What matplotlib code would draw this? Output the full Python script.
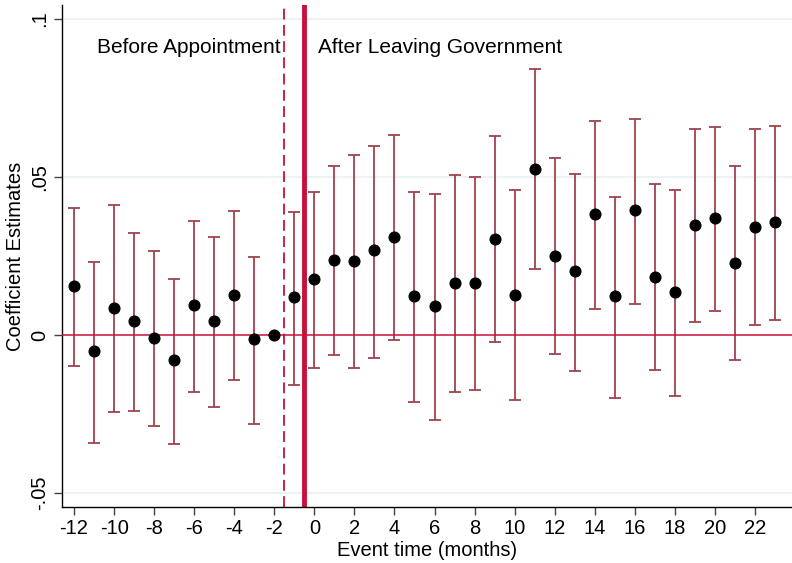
import numpy as np
import matplotlib
matplotlib.use('Agg')
import matplotlib.pyplot as plt

plt.rcParams['font.family'] = ['Liberation Sans', 'DejaVu Sans']
plt.rcParams['axes.unicode_minus'] = False

# event time (months) and estimates
event_time = list(range(-12, 24))
coef = [0.0155, -0.0050, 0.0085, 0.0044, -0.0008, -0.0079, 0.0094, 0.0044,
        0.0128, -0.0014, 0.0000, 0.0120, 0.0176, 0.0237, 0.0234, 0.0268,
        0.0311, 0.0124, 0.0092, 0.0166, 0.0166, 0.0304, 0.0128, 0.0526,
        0.0251, 0.0202, 0.0384, 0.0122, 0.0395, 0.0185, 0.0135, 0.0347,
        0.0369, 0.0229, 0.0341, 0.0359]
ci_hi = [0.0401, 0.0232, 0.0411, 0.0323, 0.0267, 0.0178, 0.0362, 0.0311,
         0.0392, 0.0247, 0.0000, 0.0389, 0.0453, 0.0534, 0.0570, 0.0599,
         0.0634, 0.0453, 0.0445, 0.0507, 0.0501, 0.0629, 0.0460, 0.0842,
         0.0560, 0.0510, 0.0677, 0.0438, 0.0684, 0.0479, 0.0459, 0.0653,
         0.0657, 0.0534, 0.0651, 0.0662]
ci_lo = [-0.0097, -0.0340, -0.0243, -0.0240, -0.0287, -0.0344, -0.0180, -0.0229,
         -0.0141, -0.0281, 0.0000, -0.0157, -0.0104, -0.0063, -0.0105, -0.0072,
         -0.0015, -0.0212, -0.0268, -0.0181, -0.0174, -0.0023, -0.0207, 0.0209,
         -0.0061, -0.0113, 0.0081, -0.0198, 0.0099, -0.0111, -0.0193, 0.0040,
         0.0076, -0.0079, 0.0031, 0.0048]

x_ticks = list(range(-12, 23, 2))
y_ticks = [-0.05, 0, 0.05, 0.1]
y_ticklabels = ['-.05', '0', '.05', '.1']

red = '#c8103a'
bar_col = '#a0434e'

x = np.array(event_time)
y = np.array(coef)
err = np.vstack([y - np.array(ci_lo), np.array(ci_hi) - y])

fig = plt.figure(figsize=(7.92, 5.63), dpi=100)
ax = fig.add_axes([62 / 792, 1 - 507 / 563, 730 / 792, 502 / 563])

# light grid lines
for v in [-0.05, 0.05, 0.1]:
    ax.axhline(v, color='#e8f0f2', lw=1.2, zorder=0)

ax.axvline(-1.5, color=red, lw=1.3, dashes=(6, 3), zorder=1)
ax.axvline(-0.5, color=red, lw=3.5, zorder=1)

ax.errorbar(x, y, yerr=err, fmt='none', ecolor=bar_col, elinewidth=1.3,
            capsize=4.5, capthick=1.3, zorder=2)
ax.axhline(0, color=red, lw=1.1, zorder=3)
ax.plot(x, y, 'o', color='black', ms=7.7, zorder=4)

ax.text(-10.85, 0.0908, 'Before Appointment', fontsize=15, va='center', ha='left')
ax.text(0.2, 0.0908, 'After Leaving Government', fontsize=15, va='center', ha='left')

ax.set_xlim(-12.6, 23.85)
ax.set_ylim(-0.0544, 0.1044)
ax.set_xticks(x_ticks)
ax.set_yticks(y_ticks)
ax.set_yticklabels(y_ticklabels, rotation=90, va='center')
ax.tick_params(axis='both', labelsize=14.5, length=6, width=1, color='#444444', pad=3)

ax.spines['top'].set_visible(False)
ax.spines['right'].set_visible(False)
ax.spines['left'].set_linewidth(1)
ax.spines['bottom'].set_linewidth(1)

ax.set_xlabel('Event time (months)', fontsize=14.5, labelpad=2)
ax.set_ylabel('Coefficient Estimates', fontsize=14.5, labelpad=4)

fig.savefig('out.png', dpi=100)
